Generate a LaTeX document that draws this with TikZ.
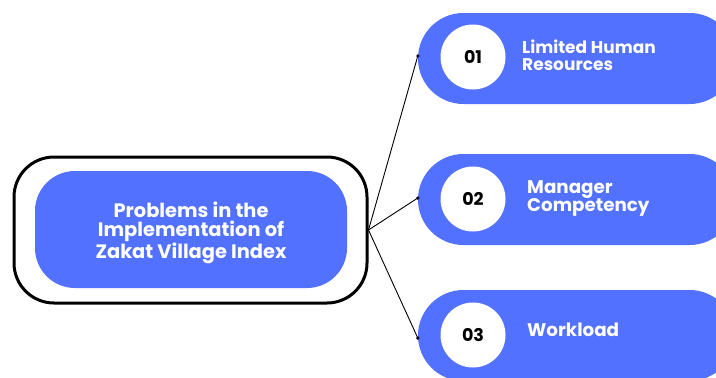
\documentclass[tikz,border=0pt]{standalone}
\usepackage{fontspec}
\setmainfont{Poppins}
\definecolor{pillblue}{HTML}{5271FF}
\begin{document}
\begin{tikzpicture}[x=1pt,y=-1pt,
  outerbox/.style={draw=black, line width=3pt, rounded corners=40pt, minimum width=353pt, minimum height=146pt, inner sep=0pt},
  innerbox/.style={fill=pillblue, rounded corners=40pt, minimum width=312pt, minimum height=117pt, text=white, font=\bfseries\fontsize{19.4}{18.8}\selectfont, align=center, inner sep=0pt},
  pill/.style={fill=pillblue, rounded corners=45.5pt, minimum width=317pt, minimum height=91pt, inner sep=0pt},
  numcirc/.style={circle, fill=white, minimum size=65pt, inner sep=0pt, font=\bfseries\fontsize{17.5}{18}\selectfont, text=black},
  lbl/.style={anchor=west, align=left, text=white, inner sep=0pt},
  conn/.style={draw=black, line width=0.9pt},
  dotc/.style={fill=black}
]
\useasboundingbox (0,0) rectangle (716,378);
\fill[white] (0,0) rectangle (716,378);
\clip (0,0) rectangle (716,378);

\node[outerbox] (outer) at (190.5,230) {};
\node[innerbox] (center) at (191,229.5) {};
\node[text=white, font=\bfseries\fontsize{19.4}{18.8}\selectfont, align=center, inner sep=0pt] (ctext) at (191,233) {Problems in the\\Implementation of\\Zakat Village Index};

\node[pill] (p1) at (576.5,58.5) {};
\node[pill] (p2) at (576.5,199.5) {};
\node[pill] (p3) at (576.5,335.5) {};

\node[numcirc] (n1) at (473,57) {01};
\node[numcirc] (n2) at (473,199) {02};
\node[numcirc] (n3) at (473,335) {03};

\node[lbl, font=\bfseries\fontsize{17}{16.7}\selectfont] (t1) at (522,55) {Limited Human\\Resources};
\node[lbl, font=\bfseries\fontsize{18.3}{18.5}\selectfont] (t2) at (527,198.5) {Manager\\Competency};
\node[lbl, font=\bfseries\fontsize{18.3}{18.5}\selectfont] (t3) at (527,330) {Workload};

\coordinate (hub) at (outer.east);
\coordinate (d1) at ([yshift=2.5pt]p1.west);
\coordinate (d2) at ([yshift=1.5pt]p2.west);
\coordinate (d3) at ([yshift=-2.5pt]p3.west);

\draw[conn] (hub) -- (d1);
\draw[conn] (hub) -- (d2);
\draw[conn] (hub) -- (d3);
\fill[dotc] (d1) circle (1.8pt);
\fill[dotc] (d2) circle (1.8pt);
\fill[dotc] (d3) circle (1.8pt);
\end{tikzpicture}
\end{document}
